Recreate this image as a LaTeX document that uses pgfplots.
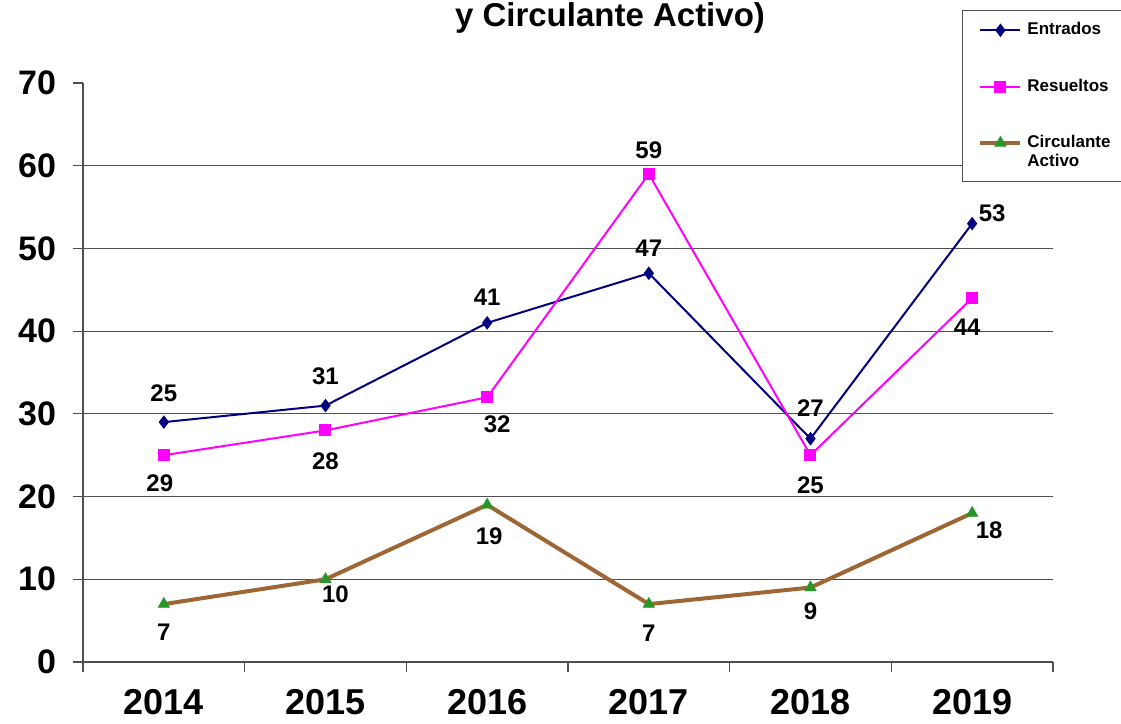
\documentclass[border=0pt]{standalone}
\usepackage{pgfplots}
\usepackage{pgfplotstable}
\pgfplotsset{compat=1.18}
\usepackage{fontspec}
\setmainfont{Liberation Sans}
\definecolor{cnavy}{RGB}{0,0,128}
\definecolor{cmag}{RGB}{255,0,255}
\definecolor{cbrown}{RGB}{158,102,52}
\definecolor{cgreen}{RGB}{40,150,40}
\definecolor{cgrid}{RGB}{80,80,80}

\pgfplotsset{twoline legend/.style={legend image code/.code={\path (0pt,-4.75pt); \draw[mark repeat=2,mark phase=2,##1] plot coordinates {(0pt,4.75pt) (10pt,4.75pt) (20pt,4.75pt)};}}}

\pgfplotstableread{
x y lab dx dy
0 29 25 0 29
1 31 31 0 29
2 41 41 0 26
3 47 47 0 25
4 27 27 0 31
5 53 53 20 10
}\entrados

\pgfplotstableread{
x y lab dx dy
0 25 29 -4 -28
1 28 28 0 -31
2 32 32 10 -27
3 59 59 0 24
4 25 25 0 -30
5 44 44 -5 -29
}\resueltos

\pgfplotstableread{
x y lab dx dy
0 7 7 0 -28
1 10 10 10 -15
2 19 19 2 -31
3 7 7 0 -29
4 9 9 0 -24
5 18 18 17 -17
}\circulante

\begin{document}
\begin{tikzpicture}
\useasboundingbox (0pt,0pt) rectangle (560.5pt,362pt);
\node[anchor=base, font=\bfseries\fontsize{16.5}{19}\selectfont] at (305pt,348.5pt) {y Circulante Activo)};
\begin{axis}[
  at={(41.5pt,31pt)}, anchor=south west,
  scale only axis, width=485pt, height=289.5pt,
  xmin=-0.5, xmax=5.5, ymin=0, ymax=70,
  clip=false,
  axis x line=bottom, axis y line=left,
  axis line style={cgrid, line width=0.6pt, -},
  tick align=outside, major tick length=5pt,
  tick style={cgrid, line width=0.6pt},
  xtick={-0.5,0.5,1.5,2.5,3.5,4.5,5.5},
  xticklabels={2014,2015,2016,2017,2018,2019},
  x tick label as interval,
  xticklabel style={font=\bfseries\fontsize{18}{20}\selectfont, yshift=-5pt},
  ytick={0,10,20,30,40,50,60},
  extra y ticks={70},
  extra y tick style={grid=none},
  ymajorgrids,
  grid style={cgrid, line width=0.6pt},
  yticklabel style={font=\bfseries\fontsize{17}{19}\selectfont, xshift=-5pt},
  /pgf/number format/assume math mode=true,
  legend style={
    at={(axis description cs:0.906,1.126)}, anchor=north west,
    draw=cgrid, line width=0.6pt,
    font=\bfseries\fontsize{8.5}{9.5}\selectfont,
    inner xsep=8pt, inner ysep=6pt,
    row sep=20.5pt, column sep=2.5pt,
    nodes={inner sep=0pt, align=left},
  },
  legend cell align=left,
  legend image code/.code={\draw[mark repeat=2,mark phase=2,#1] plot coordinates {(0pt,0pt) (10pt,0pt) (20pt,0pt)};},
  nodes near coords,
  point meta=explicit symbolic,
  visualization depends on={\thisrow{dx} \as \dx},
  visualization depends on={\thisrow{dy} \as \dy},
  nodes near coords style={anchor=center, inner sep=0pt, text=black,
     font=\bfseries\fontsize{12}{14}\selectfont,
     xshift=0.5pt*(\dx), yshift=0.5pt*(\dy)},
]
\addplot[cnavy, line width=1pt, mark=diamond*, mark size=2.6pt, mark options={solid, fill=cnavy}]
  table[x=x, y=y, meta=lab] {\entrados};
\addlegendentry{Entrados}
\addplot[cmag, line width=1pt, mark=square*, mark size=2.5pt, mark options={solid, fill=cmag}]
  table[x=x, y=y, meta=lab] {\resueltos};
\addlegendentry{Resueltos}
\addplot[cbrown, line width=2pt, mark=triangle*, mark size=3.2pt, mark options={solid, fill=cgreen, draw=cgreen, line width=0.4pt}, twoline legend]
  table[x=x, y=y, meta=lab] {\circulante};
\addlegendentry{Circulante\\Activo}
\end{axis}
\end{tikzpicture}
\end{document}
